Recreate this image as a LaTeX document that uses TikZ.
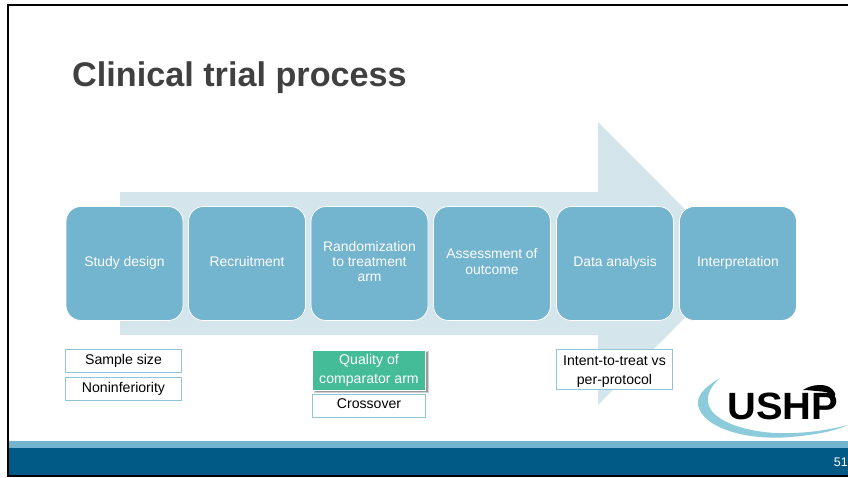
\documentclass[tikz,border=0pt]{standalone}
\usepackage{fontspec}
\setmainfont{Liberation Sans}
\definecolor{stepblue}{HTML}{73B4CE}
\definecolor{arrowpale}{HTML}{D4E5EC}
\definecolor{footdark}{HTML}{005A85}
\definecolor{boxline}{HTML}{8FC4D9}
\definecolor{greenbox}{HTML}{45BC98}
\definecolor{titlegrey}{HTML}{404040}
\definecolor{swoosh}{HTML}{8CCBDC}
\newcommand{\steptext}[1]{\raisebox{-3.5pt}[0pt][0pt]{\parbox[c]{112pt}{\centering\strut #1\strut}}}
\newcommand{\lowline}[1]{\raisebox{-2pt}[10pt][3pt]{#1}}
\tikzset{
  x=1pt,y=-1pt,
  stepbox/.style={draw=white,line width=0.8pt,fill=stepblue,rounded corners=15pt,minimum width=117pt,minimum height=114pt,inner sep=0pt,text=white,font=\fontsize{13.9}{15.3}\selectfont},
  notebox/.style={draw=boxline,line width=0.9pt,fill=white,minimum width=116pt,align=center,inner sep=0pt,text=black,font=\fontsize{14.1}{19}\selectfont},
}
\begin{document}
\begin{tikzpicture}
\useasboundingbox (0,0) rectangle (848,477);
\fill[white] (0,0) rectangle (848,477);
% footer
\fill[stepblue] (9,441) rectangle (848,448);
\fill[footdark] (9,448) rectangle (848,476);
% frame
\draw[black,line width=2pt] (848,5) -- (8,5) -- (8,476) -- (848,476);
\node[anchor=west,inner sep=0pt,text=titlegrey,font=\bfseries\fontsize{34.2}{36}\selectfont] (title) at (72,77.5) {Clinical trial process};
% big arrow
\fill[arrowpale] (120,192) -- (598,192) -- (598,122) -- (739,263.5) -- (598,405) -- (598,335) -- (120,335) -- cycle;
% steps
\node[stepbox] (s1) at (124.5,263.5) {\steptext{Study design}};
\node[stepbox] (s2) at (247,263.5) {\steptext{Recruitment}};
\node[stepbox] (s3) at (369.5,263.5) {\steptext{Randomization\\to treatment\\arm}};
\node[stepbox] (s4) at (492,263.5) {\steptext{Assessment of\\outcome}};
\node[stepbox] (s5) at (615,263.5) {\steptext{Data analysis}};
\node[stepbox] (s6) at (738,263.5) {\steptext{Interpretation}};
% notes
\node[notebox,minimum height=23pt] (n1) at (123.5,361) {Sample size};
\node[notebox,minimum height=23pt] (n2) at (123.5,389) {Noninferiority};
\fill[black,opacity=.18] (314,351) rectangle (429,393);
\fill[black,opacity=.25] (315,352) rectangle (428,392);
\node[notebox,minimum width=113pt,minimum height=40pt,fill=greenbox,draw=white,text=white] (n3) at (369,370) {Quality of\\comparator arm};
\node[notebox,minimum width=113pt,minimum height=23pt] (n4) at (369,405.5) {\raisebox{3pt}{Crossover}};
\node[notebox,minimum width=116pt,minimum height=40pt] (n5) at (614.5,369) {\lowline{Intent-to-treat vs}\\\lowline{per-protocol}};
% logo
\fill[swoosh] (720,378) .. controls (703,388) and (697,396) .. (698,405)
  .. controls (702,427) and (745,441) .. (790,437)
  .. controls (815,435) and (835,431) .. (848,425)
  .. controls (825,431) and (800,434) .. (775,433)
  .. controls (742,431) and (710,420) .. (708,402)
  .. controls (707,394) and (711,386) .. (720,378) -- cycle;
\node[inner sep=0pt,anchor=base west,font=\bfseries\fontsize{38}{38}\selectfont,text=black,xscale=1.05] (logo) at (727,419) {USHP};
\fill[black] (803,390) .. controls (812,384) and (826,383) .. (832,389)
  .. controls (836,393) and (836,396) .. (834,398)
  .. controls (832,394) and (828,392) .. (822,391.5)
  .. controls (815,391) and (809,390) .. (803,390) -- cycle;
\node[inner sep=0pt,anchor=base east,text=white,font=\fontsize{12.5}{12.5}\selectfont] (page) at (848,466.5) {51};
\end{tikzpicture}
\end{document}
